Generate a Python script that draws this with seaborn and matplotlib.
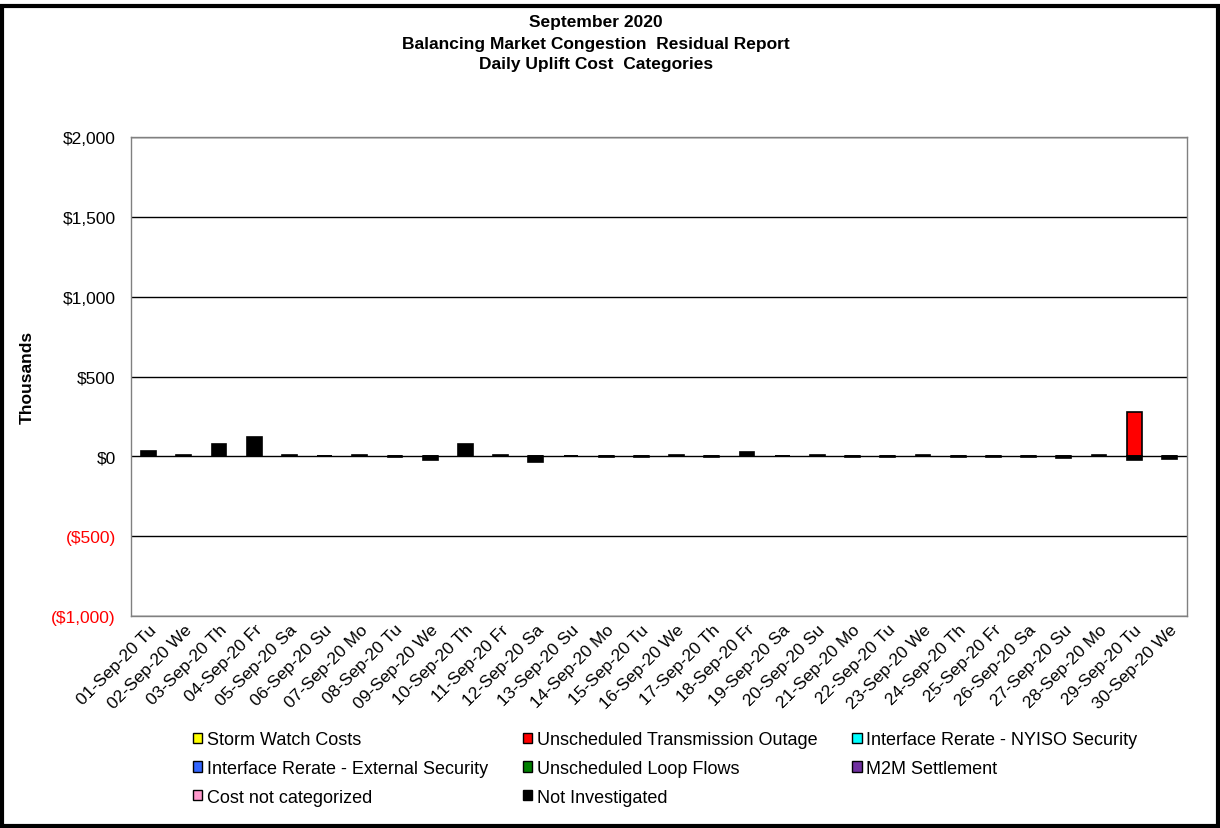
import numpy as np
import pandas as pd
import matplotlib
matplotlib.use("Agg")
import matplotlib.pyplot as plt
from matplotlib.patches import Patch, Rectangle
from matplotlib.ticker import FuncFormatter
import seaborn as sns

# days of September 2020 with weekday tags
days = ["01-Sep-20 Tu", "02-Sep-20 We", "03-Sep-20 Th", "04-Sep-20 Fr", "05-Sep-20 Sa",
        "06-Sep-20 Su", "07-Sep-20 Mo", "08-Sep-20 Tu", "09-Sep-20 We", "10-Sep-20 Th",
        "11-Sep-20 Fr", "12-Sep-20 Sa", "13-Sep-20 Su", "14-Sep-20 Mo", "15-Sep-20 Tu",
        "16-Sep-20 We", "17-Sep-20 Th", "18-Sep-20 Fr", "19-Sep-20 Sa", "20-Sep-20 Su",
        "21-Sep-20 Mo", "22-Sep-20 Tu", "23-Sep-20 We", "24-Sep-20 Th", "25-Sep-20 Fr",
        "26-Sep-20 Sa", "27-Sep-20 Su", "28-Sep-20 Mo", "29-Sep-20 Tu", "30-Sep-20 We"]

# values in $ thousands
storm_watch = [0] * 30
unsched_tx_outage = [0] * 28 + [275, 0]
nyiso_security = [0] * 30
external_security = [0] * 30
loop_flows = [0] * 30
m2m_settlement = [0] * 30
not_categorized = [0] * 30
not_investigated = [35, 10, 75, 120, 8, 5, 6, -5, -20, 75,
                    8, -37, 5, -5, -5, 8, -5, 25, 5, 6,
                    -5, -5, 8, -5, -5, -5, -10, 6, -22, -15]

title_lines = ["September 2020",
               "Balancing Market Congestion  Residual Report",
               "Daily Uplift Cost  Categories"]

series = [
    ("Storm Watch Costs", storm_watch, "#FFFF00"),
    ("Unscheduled Transmission Outage", unsched_tx_outage, "#FF0000"),
    ("Interface Rerate - NYISO Security", nyiso_security, "#00FFFF"),
    ("Interface Rerate - External Security", external_security, "#3366FF"),
    ("Unscheduled Loop Flows", loop_flows, "#008000"),
    ("M2M Settlement", m2m_settlement, "#7030A0"),
    ("Cost not categorized", not_categorized, "#FF99CC"),
    ("Not Investigated", not_investigated, "#000000"),
]

sns.set_style("white")
plt.rcParams["font.family"] = ["Liberation Sans", "DejaVu Sans"]
plt.rcParams.update({"text.color": "black", "axes.labelcolor": "black",
                     "xtick.color": "black", "ytick.color": "black"})

fig = plt.figure(figsize=(12.2, 8.29), dpi=100)
ax = fig.add_axes([131 / 1220, 1 - 617 / 829, (1187 - 131) / 1220, (617 - 138) / 829])

pos_base = np.zeros(len(days))
neg_base = np.zeros(len(days))
for name, vals, color in series:
    v = np.array(vals, dtype=float)
    if not np.any(v):
        continue
    bottom = np.where(v >= 0, pos_base, neg_base)
    df = pd.DataFrame({"day": days, "value": v})
    sns.barplot(data=df, x="day", y="value", order=days, color=color, ax=ax,
                bottom=bottom, width=0.42, errorbar=None, saturation=1,
                edgecolor="black", linewidth=1.2)
    pos_base += np.where(v > 0, v, 0)
    neg_base += np.where(v < 0, v, 0)

ax.set_ylim(-1000, 2000)
ax.set_yticks(np.arange(-1000, 2001, 500))
ax.yaxis.set_major_formatter(FuncFormatter(
    lambda y, _: f"${y:,.0f}" if y >= 0 else f"(${-y:,.0f})"))
for lbl, t in zip(ax.get_yticklabels(), ax.get_yticks()):
    lbl.set_color("red" if t < 0 else "black")
ax.tick_params(axis="y", labelsize=12.5, length=0, pad=11)
ax.set_xlim(-0.5, len(days) - 0.5)
ax.set_xticks(range(len(days)))
ax.set_xticklabels(days, rotation=45, ha="right", rotation_mode="anchor", fontsize=12.5)
ax.tick_params(axis="x", length=0, pad=4)
ax.grid(axis="y", color="black", linewidth=1)
ax.set_axisbelow(True)
for s in ax.spines.values():
    s.set_color("#808080")
    s.set_linewidth(1)
ax.set_xlabel("")
ax.set_ylabel("Thousands", fontsize=12.5, fontweight="bold")
ax.yaxis.set_label_coords(-0.091, 0.5)

# three title lines, spaced like the original
for line, ypx in zip(title_lines, [22, 44, 65]):
    fig.text(596 / 1220, 1 - ypx / 829, line, ha="center", va="center",
             fontsize=12.5, fontweight="bold")

handles = [Patch(facecolor=c, edgecolor="black", linewidth=1) for _, _, c in series]
labels = [n for n, _, _ in series]
# reorder so the legend reads row by row (3 columns)
order = [0, 3, 6, 1, 4, 7, 2, 5]
fig.legend([handles[i] for i in order], [labels[i] for i in order],
           loc="upper left", bbox_to_anchor=(186 / 1220, 1 - 725 / 829), ncol=3,
           frameon=False, fontsize=13, handlelength=0.5, handleheight=0.5,
           handletextpad=0.25, columnspacing=1.95, labelspacing=0.65, borderaxespad=0)

fig.add_artist(Rectangle((0.002, 0.002), 0.996, 0.99, transform=fig.transFigure,
                         fill=False, edgecolor="black", linewidth=3))

fig.savefig("out.png", dpi=100)
